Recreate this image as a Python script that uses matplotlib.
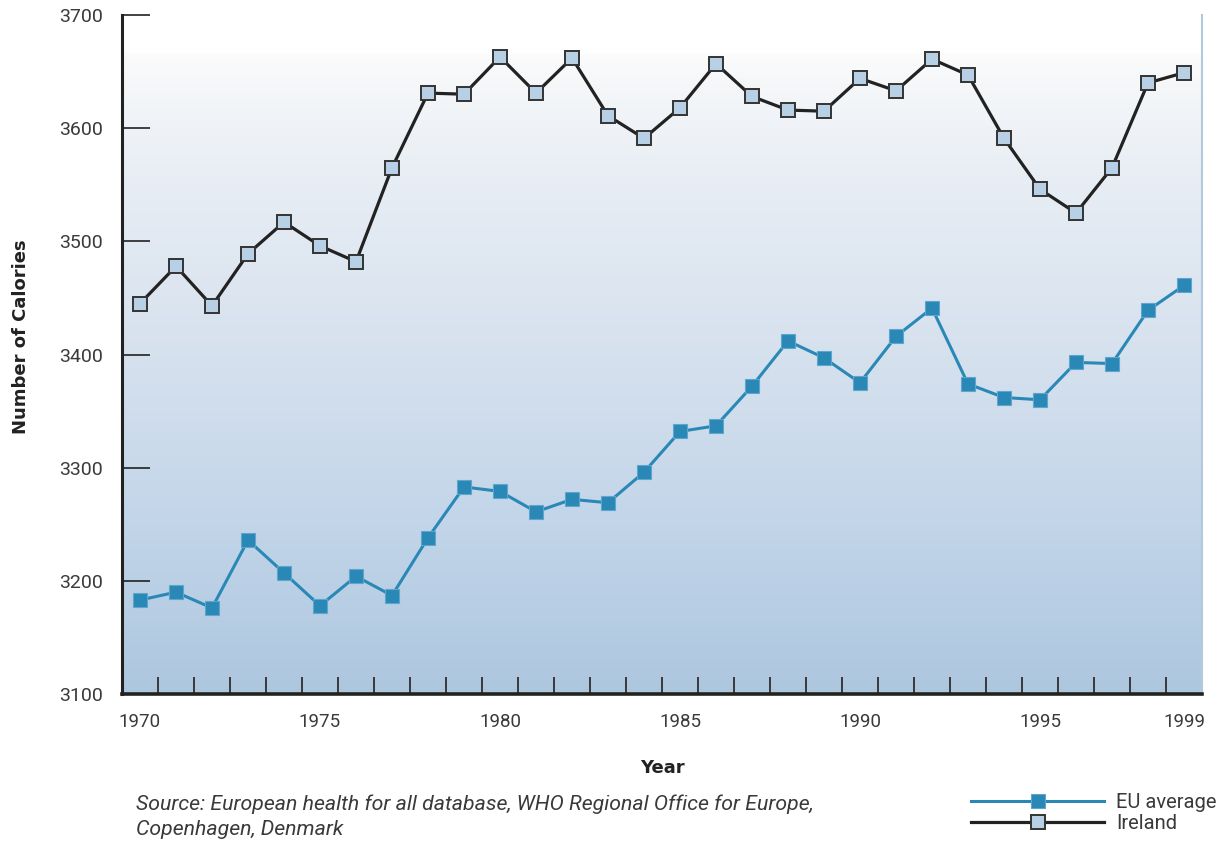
import numpy as np
import matplotlib.pyplot as plt
from matplotlib.colors import LinearSegmentedColormap
from matplotlib.ticker import FixedLocator

plt.rcParams['font.family'] = ['Roboto', 'DejaVu Sans']

years = list(range(1970, 2000))
ireland = [3445, 3478, 3443, 3489, 3517, 3496, 3482, 3565, 3631, 3630,
           3663, 3631, 3662, 3611, 3591, 3618, 3657, 3628, 3616, 3615,
           3644, 3633, 3661, 3647, 3591, 3546, 3525, 3565, 3640, 3649]
eu_average = [3183, 3190, 3176, 3236, 3207, 3178, 3204, 3187, 3238, 3283,
              3279, 3261, 3272, 3269, 3296, 3332, 3337, 3372, 3412, 3397,
              3375, 3416, 3441, 3374, 3362, 3360, 3393, 3392, 3439, 3461]
year_labels = ['1970', '1975', '1980', '1985', '1990', '1995', '1999']
label_years = [1970, 1975, 1980, 1985, 1990, 1995, 1999]

fig = plt.figure(figsize=(12.29, 8.44), dpi=100)
ax = fig.add_axes([122 / 1229, 1 - 694 / 844, 1080 / 1229, 679 / 844])

# background gradient
grad = LinearSegmentedColormap.from_list('bg', [
    (0.0, '#adc7df'), (0.25, '#c2d5e9'), (0.5, '#d6e1ee'),
    (0.75, '#e7edf4'), (0.9, '#f5f7f9'), (0.94, '#fbfbfb'), (0.95, '#ffffff'),
    (1.0, '#ffffff')])
ax.imshow(np.linspace(0, 1, 256)[:, None], cmap=grad, origin='lower',
          extent=[1969.5, 1999.5, 3100, 3700], aspect='auto', zorder=0)

ax.plot(years, eu_average, color='#2a88b6', lw=2.2, marker='s', ms=10,
        mfc='#2a88b6', mec='#5fa6cc', mew=0.8, label='EU average', zorder=3)
ax.plot(years, ireland, color='#222222', lw=2.3, marker='s', ms=10,
        mfc='#b8d0e6', mec='#333333', mew=1.4, label='Ireland', zorder=3)

ax.set_xlim(1969.5, 1999.5)
ax.set_ylim(3100, 3700)

ax.spines['top'].set_visible(False)
ax.spines['right'].set_color('#b3c9de')
ax.spines['right'].set_linewidth(1.5)
ax.spines['left'].set_linewidth(2.2)
ax.spines['left'].set_color('#222222')
ax.spines['bottom'].set_linewidth(2.6)
ax.spines['bottom'].set_color('#222222')

ax.set_yticks(range(3100, 3701, 100))
ax.tick_params(axis='y', direction='in', length=20, width=1.2, color='#222222',
               labelsize=14, labelcolor='#3a3a3a', pad=14)
ax.set_xticks(label_years)
ax.set_xticklabels(year_labels)
ax.tick_params(axis='x', which='major', length=0, labelsize=13.5,
               labelcolor='#3a3a3a', pad=14)
ax.xaxis.set_minor_locator(FixedLocator(np.arange(1970.5, 1999, 1)))
ax.tick_params(axis='x', which='minor', direction='in', length=12, width=1.2,
               color='#222222')

ax.set_ylabel('Number of Calories', fontsize=13, fontweight='bold',
              family=['DejaVu Sans'], color='#222222')
ax.yaxis.set_label_coords(-0.085, 0.526)
ax.set_xlabel('Year', fontsize=13, fontweight='bold', family=['DejaVu Sans'],
              color='#222222', labelpad=20)

fig.text(136 / 1229, 1 - 817 / 844,
         'Source: European health for all database, WHO Regional Office for Europe,\nCopenhagen, Denmark',
         fontsize=15.3, style='italic', color='#3a3a3a',
         va='center', linespacing=1.38)

fig.legend(loc='center right', bbox_to_anchor=(1.0, 1 - 813 / 844),
           frameon=False, handlelength=6.6, labelspacing=0.08,
           handletextpad=0.6, borderaxespad=0.2, labelcolor='#3a3a3a',
           prop={'size': 14.5})

fig.savefig('out.png', dpi=100)
